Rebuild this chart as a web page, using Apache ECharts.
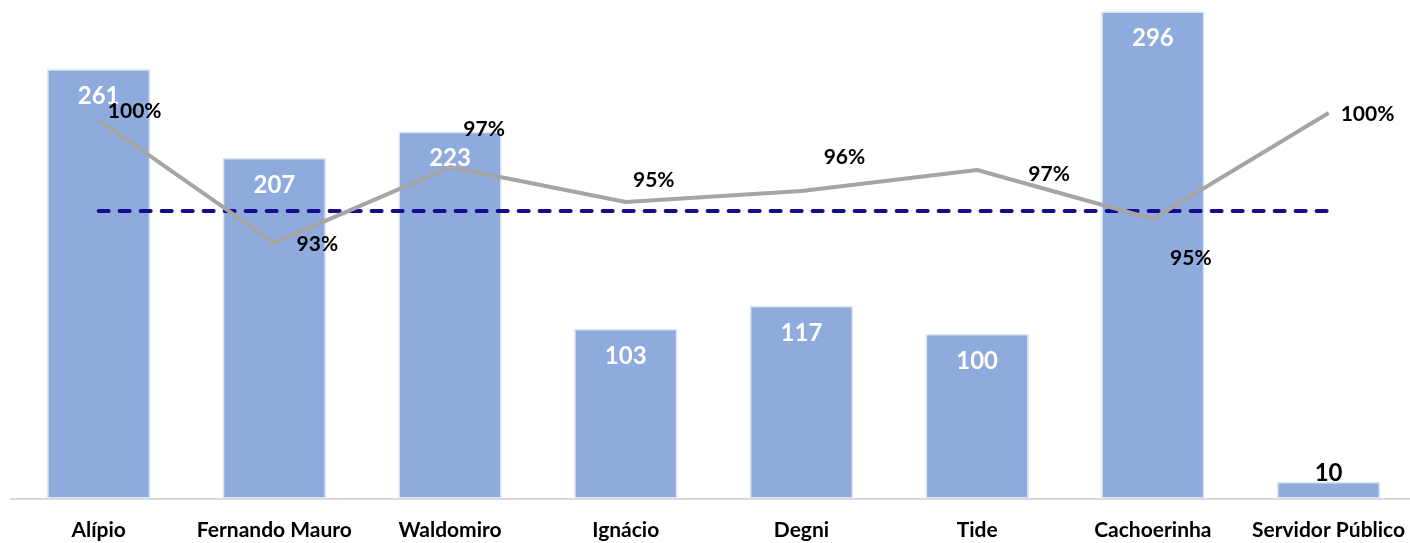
<!DOCTYPE html>
<html>
<head>
<meta charset="utf-8">
<script src="https://cdn.jsdelivr.net/npm/echarts@6/dist/echarts.min.js"></script>
<style>
html,body{margin:0;padding:0;background:#fff;overflow:hidden;width:1410px;height:543px;}
#chart{width:1420px;height:543px;}
</style>
</head>
<body>
<div id="chart"></div>
<script>
const categories = ['Alípio', 'Fernando Mauro', 'Waldomiro', 'Ignácio', 'Degni', 'Tide', 'Cachoerinha', 'Servidor Público'];
const barValues = [261, 207, 223, 103, 117, 100, 296, 10];
const pctValues = [99.64, 93.37, 97.24, 95.46, 96.02, 97.09, 94.59, 100];
const targetValue = 95;

// label layout (pixel offsets from each line point), kept apart from data
const pctLabelOffsets = [[36, -9], [43, 1], [34, -38], [28, -22], [43, -34], [72, 4], [38, 39], [39, 1]];

const FONT = 'Lato';

const barData = barValues.map((v, i) => {
  if (v < 30) {
    return { value: v, label: { position: 'top', color: '#000', distance: -3 } };
  }
  return v;
});

const pctData = pctValues.map((v, i) => ({
  value: v,
  label: { offset: pctLabelOffsets[i] }
}));

const chart = echarts.init(document.getElementById('chart'));
chart.setOption({
  animation: false,
  grid: { left: 10.8, right: 3.6, top: 5, bottom: 44.5, containLabel: false },
  xAxis: {
    type: 'category',
    data: categories,
    axisLine: { show: true, lineStyle: { color: '#D9D9D9', width: 2 } },
    axisTick: { show: false },
    axisLabel: {
      interval: 0,
      margin: 21,
      fontFamily: FONT,
      fontWeight: 'bold',
      fontSize: 21,
      color: '#000'
    }
  },
  yAxis: [
    { type: 'value', min: 0, max: 300, show: false, splitLine: { show: false } },
    { type: 'value', min: 80.33, max: 105.51, show: false, splitLine: { show: false } }
  ],
  series: [
    {
      type: 'bar',
      data: barData,
      barWidth: 103,
      itemStyle: { color: '#8FAADC', borderColor: '#DAE3F3', borderWidth: 1.5 },
      label: {
        show: true,
        position: 'insideTop',
        distance: 15,
        color: '#fff',
        fontFamily: FONT,
        fontWeight: 'bold',
        fontSize: 24
      },
      z: 1
    },
    {
      type: 'line',
      yAxisIndex: 1,
      data: pctData,
      symbol: 'circle',
      symbolSize: 1,
      showSymbol: true,
      itemStyle: { color: '#A5A5A5' },
      lineStyle: { color: '#A5A5A5', width: 4 },
      label: {
        show: true,
        position: 'inside',
        formatter: p => Math.round(p.value) + '%',
        color: '#000',
        fontFamily: FONT,
        fontWeight: 'bold',
        fontSize: 21
      },
      z: 3
    },
    {
      type: 'line',
      yAxisIndex: 1,
      data: categories.map(() => targetValue),
      symbol: 'none',
      lineStyle: { color: '#140C8C', width: 4, type: [10, 11], cap: 'round' },
      z: 2
    }
  ]
});
</script>
</body>
</html>
